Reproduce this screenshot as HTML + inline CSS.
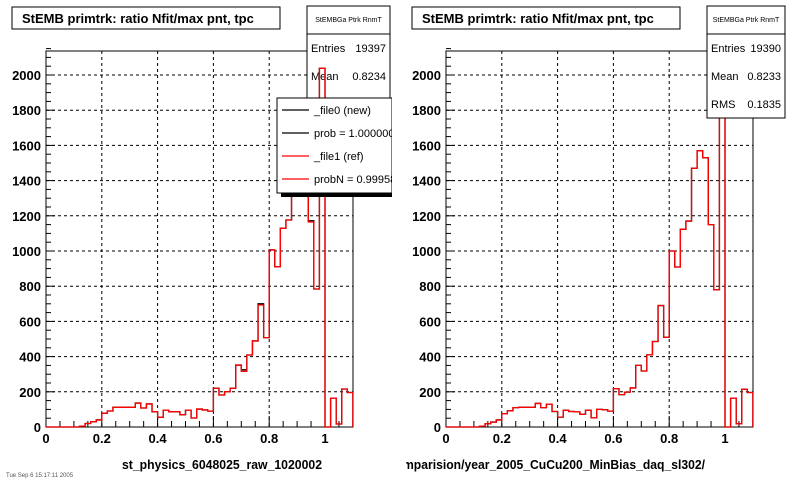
<!DOCTYPE html>
<html><head><meta charset="utf-8"><style>
body{margin:0;background:#fff;width:800px;height:480px;overflow:hidden;font-family:"Liberation Sans",sans-serif}
svg text{font-family:"Liberation Sans",sans-serif}
</style></head><body>
<svg id="c" width="800" height="480" xmlns="http://www.w3.org/2000/svg"></svg>
<script>
const binLow = [0,0.02,0.04,0.06,0.08,0.10,0.12,0.14,0.16,0.18,0.20,0.22,0.24,0.26,0.28,0.30,0.32,0.34,0.36,0.38,0.40,0.42,0.44,0.46,0.48,0.50,0.52,0.54,0.56,0.58,0.60,0.62,0.64,0.66,0.68,0.70,0.72,0.74,0.76,0.78,0.80,0.82,0.84,0.86,0.88,0.90,0.92,0.94,0.96,0.98,1.00,1.02,1.04,1.06,1.08];
const refVals = [0,0,0,0,0,0,5,20,30,40,78,91,112,112,112,112,136,108,131,87,55,96,87,87,70,96,51,102,97,90,220,182,200,220,352,316,409,489,693,508,1006,911,1129,1176,1470,1570,1530,1165,784,2038,0,164,17,216,196];
const newVals = [0,0,0,0,0,0,5,20,30,40,78,91,112,112,112,112,136,108,131,87,55,96,87,87,70,96,51,102,97,90,220,182,200,220,352,325,409,489,700,508,1006,911,1129,1176,1470,1570,1530,1172,784,2038,0,164,17,216,196];
const refVals2 = [0,0,0,0,0,0,5,18,28,40,76,92,110,112,112,112,134,110,130,88,56,95,88,86,72,95,52,100,98,90,218,184,198,222,350,318,410,486,690,510,1000,909,1124,1170,1470,1570,1530,1150,780,2030,0,164,18,214,196];
const newVals2 = refVals2.slice();
const xTicks = [0,0.2,0.4,0.6,0.8,1];
const xTickLabels = ["0","0.2","0.4","0.6","0.8","1"];
const yTicks = [0,200,400,600,800,1000,1200,1400,1600,1800,2000];
const binW = 0.02;

const NS="http://www.w3.org/2000/svg";
const svg=document.getElementById('c');
function mk(tag,attrs,parent,name,txt){const e=document.createElementNS(NS,tag);for(const k in attrs)e.setAttribute(k,attrs[k]);


if(txt!==undefined)e.textContent=txt;(parent||svg).appendChild(e);return e;}

function panel(px,pref,newV,refV,stats,legend,bottomText,bx){
  const g=mk('g',{},svg,pref+'-panel');
  const L=px,R=px+307,T=51,B=427;
  const X=v=>L+v*279, Y=v=>B-v*0.176;
  mk('rect',{x:L,y:T,width:R-L,height:B-T,fill:'#fff',stroke:'#000','stroke-width':1},g,pref+'-frame');
  xTicks.forEach((t,i)=>{ if(t>0) mk('line',{x1:X(t),x2:X(t),y1:T,y2:B,stroke:'#000','stroke-dasharray':'3,3','stroke-width':1},g,pref+'-grid-x');
    mk('text',{x:X(t),y:443,'text-anchor':'middle','font-size':13,'font-weight':'bold'},g,pref+'-x-tick-label',xTickLabels[i]);});
  yTicks.forEach(t=>{ if(t>0) mk('line',{x1:L,x2:R,y1:Y(t),y2:Y(t),stroke:'#000','stroke-dasharray':'3,3','stroke-width':1},g,pref+'-grid-y');
    mk('text',{x:L-5,y:Y(t)+5,'text-anchor':'end','font-size':13,'font-weight':'bold'},g,pref+'-y-tick-label',String(t));});
  for(let v=0;v<=2150;v+=50){const big=v%200===0;mk('line',{x1:L,x2:L+(big?9:5),y1:Y(v),y2:Y(v),stroke:'#000'},g,pref+'-y-tick');}
  for(let v=0;v<=1.1001;v+=0.05){const big=Math.abs(v/0.2-Math.round(v/0.2))<1e-6;mk('line',{x1:X(v),x2:X(v),y1:B,y2:B-(big?11:6),stroke:'#000'},g,pref+'-x-tick');}
  function hist(vals,col,name){let d='M'+X(binLow[0])+','+Y(0);
    vals.forEach((v,i)=>{d+=' L'+X(binLow[i])+','+Y(v)+' L'+X(binLow[i]+binW)+','+Y(v);});
    d+=' L'+X(binLow[binLow.length-1]+binW)+','+Y(0);
    mk('path',{d:d,fill:'none',stroke:col,'stroke-width':1.3},g,name);}
  function drawStats(){
    const sx=stats.x,sw=stats.w;
    mk('rect',{x:sx,y:6,width:sw,height:112,fill:'#fff',stroke:'#000'},g,pref+'-stats-box');
    mk('line',{x1:sx,x2:sx+sw,y1:34,y2:34,stroke:'#000'},g,pref+'-stats-sep');
    mk('text',{x:sx+sw/2,y:22,'font-size':7,'text-anchor':'middle'},g,pref+'-stats-title','StEMBGa Ptrk RnmT');
    const rows=[['Entries',stats.e],['Mean',stats.m],['RMS','0.1835']];
    rows.forEach((r,i)=>{mk('text',{x:sx+4,y:52+i*28,'font-size':11},g,pref+'-stats-label',r[0]);
      mk('text',{x:sx+sw-4,y:52+i*28,'font-size':11,'text-anchor':'end'},g,pref+'-stats-value',r[1]);});
  }
  if(legend){ drawStats(); hist(newV,'#000',pref+'-hist-new'); hist(refV,'#f00',pref+'-hist-ref'); }
  else { hist(newV,'#000',pref+'-hist-new'); hist(refV,'#f00',pref+'-hist-ref'); drawStats(); }
  mk('rect',{x:px-34,y:7,width:268,height:22,fill:'#fff',stroke:'#000'},g,pref+'-title-box');
  mk('text',{x:px-24,y:23,'font-size':13,'font-weight':'bold'},g,pref+'-title','StEMB primtrk: ratio Nfit/max pnt, tpc');
  if(legend){
    mk('rect',{x:281,y:102,width:115,height:95,fill:'#000'},g,'legend-shadow');
    mk('rect',{x:277,y:98,width:115,height:95,fill:'#fff',stroke:'#000'},g,'legend-box');
    const items=[['_file0 (new)','#000'],['prob = 1.000000','#000'],['_file1 (ref)','#f00'],['probN = 0.99958','#f00']];
    items.forEach((it,i)=>{const yy=110+i*23;
      mk('line',{x1:282,x2:309,y1:yy,y2:yy,stroke:it[1],'stroke-width':1.2},g,'legend-line');
      mk('text',{x:314,y:yy+4,'font-size':11},g,'legend-label',it[0]);});
    mk('rect',{x:392,y:96,width:10,height:110,fill:'#fff'},g,'legend-clip');
  }
  mk('text',{x:bx,y:469,'font-size':12.5,'font-weight':'bold','textLength':bottomText.len,'lengthAdjust':'spacingAndGlyphs'},g,pref+'-file-label',bottomText.t);
}
panel(46,'left',newVals,refVals,{x:307,w:83,e:'19397',m:'0.8234'},true,{t:'st_physics_6048025_raw_1020002',len:200},122);
panel(446,'right',newVals2,refVals2,{x:707,w:78,e:'19390',m:'0.8233'},false,{t:'mparision/year_2005_CuCu200_MinBias_daq_sl302/',len:302},403);
mk('rect',{x:398,y:450,width:8,height:30,fill:'#fff'},svg,'text-clip');
mk('text',{x:6,y:477,'font-size':6,fill:'#555'},svg,'footer-note','Tue Sep 6 15:17:11 2005');
</script>
</body></html>
